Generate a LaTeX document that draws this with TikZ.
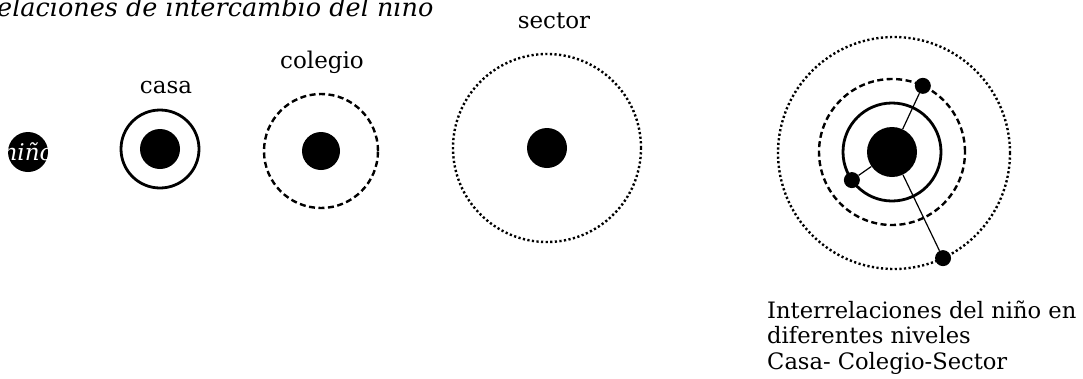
\documentclass[tikz,border=0pt]{standalone}
\usepackage{fontspec}
\setmainfont{DejaVu Serif}
\usetikzlibrary{calc}

\tikzset{
  blob/.style={circle,fill=black,inner sep=0pt,minimum size=#1},
  ring/.style={circle,draw,inner sep=0pt,minimum size=#1},
  casaline/.style={line width=2.8pt},
  colegioline/.style={line width=2.4pt,dash pattern=on 6pt off 3.5pt},
  sectorline/.style={line width=2.4pt,dash pattern=on 2.2pt off 2.4pt},
  lbl/.style={anchor=base,inner sep=0pt,font=\fontsize{23}{27}\selectfont},
  leyenda/.style={anchor=base west,inner sep=0pt,font=\fontsize{22.6}{26}\selectfont},
}

\begin{document}
\begin{tikzpicture}[x=1pt,y=-1pt]
\useasboundingbox (0,0) rectangle (1083,378);
\node[anchor=base west,inner sep=0pt,font=\itshape\fontsize{25.5}{30}\selectfont] (titulo) at (-3,16) {elaciones de intercambio del niño};
% nino solo
\node[blob=40pt] (nino) at (28,152) {};
\node[text=white,inner sep=0pt,font=\itshape\fontsize{23}{27}\selectfont] (ninolbl) at (nino) {niño};
% casa
\node[blob=40pt] (casain) at (160,149) {};
\node[ring=78pt,casaline] (casa) at (casain) {};
\node[lbl] (casalbl) at (166,93) {casa};
% colegio
\node[blob=38pt] (colegioin) at (321,151) {};
\node[ring=114pt,colegioline] (colegio) at (colegioin) {};
\node[lbl] (colegiolbl) at (322,68) {colegio};
% sector
\node[blob=40pt] (sectorin) at (547,148) {};
\node[ring=188pt,sectorline] (sector) at (sectorin) {};
\node[lbl] (sectorlbl) at (554,28) {sector};
% todo junto
\coordinate (mid) at (892,152);
\node[ring=232pt,sectorline] (rsector) at (894,153) {};
\node[ring=146pt,colegioline] (rcolegio) at (mid) {};
\node[ring=98pt,casaline] (rcasa) at (mid) {};
\node[blob=50pt] (rnino) at (mid) {};
\node[blob=16pt] (dcolegio) at ($(mid)+(-65:73)$) {};
\node[blob=16pt] (dcasa) at ($(mid)+(145:49)$) {};
\node[blob=16pt] (dsector) at ($(rsector)+(65:116)$) {};
\draw[line width=1.2pt] (rnino) -- (dcolegio);
\draw[line width=1.2pt] (rnino) -- (dcasa);
\draw[line width=1.2pt] (rnino) -- (dsector);
% texto
\node[leyenda] (cap1) at (767,318) {Interrelaciones del niño en};
\node[leyenda] (cap2) at (767,343) {diferentes niveles};
\node[leyenda] (cap3) at (767,369) {Casa- Colegio-Sector};
\end{tikzpicture}
\end{document}
